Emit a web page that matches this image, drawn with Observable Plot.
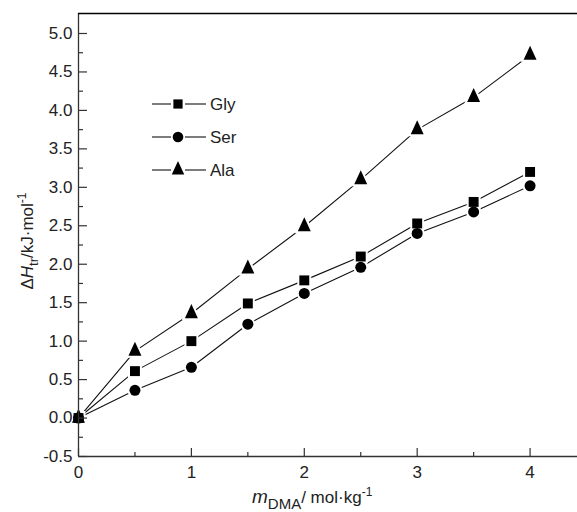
<!DOCTYPE html>
<html>
<head>
<meta charset="utf-8">
<script src="https://cdn.jsdelivr.net/npm/d3@7"></script>
<script src="https://cdn.jsdelivr.net/npm/@observablehq/plot@0.6"></script>
<style>
  html, body { margin: 0; padding: 0; background: #fff; }
  #chart { width: 577px; height: 512px; }
</style>
</head>
<body>
<div id="chart"></div>
<script>
// ---- data ----
const molality = [0, 0.5, 1, 1.5, 2, 2.5, 3, 3.5, 4];
const glyValues = [0, 0.61, 1.00, 1.49, 1.79, 2.10, 2.53, 2.81, 3.20];
const serValues = [0, 0.36, 0.66, 1.22, 1.62, 1.96, 2.40, 2.68, 3.02];
const alaValues = [0, 0.87, 1.36, 1.94, 2.49, 3.10, 3.75, 4.17, 4.72];
const seriesNames = ["Gly", "Ser", "Ala"];
const xMajorTicks = [0, 1, 2, 3, 4];
const xMinorTicks = [0.5, 1.5, 2.5, 3.5];
const yMajorTicks = [-0.5, 0, 0.5, 1.0, 1.5, 2.0, 2.5, 3.0, 3.5, 4.0, 4.5, 5.0];
const yMinorTicks = [-0.25, 0.25, 0.75, 1.25, 1.75, 2.25, 2.75, 3.25, 3.75, 4.25, 4.75];
const xDomain = [0, 4.42];
const yDomain = [-0.5, 5.26];

const valuesBySeries = { Gly: glyValues, Ser: serValues, Ala: alaValues };
const table = seriesNames.flatMap(s => molality.map((m, i) => ({ series: s, m, dh: valuesBySeries[s][i] })));

// custom slightly tall triangle
const tallTriangle = {
  draw(ctx, size) {
    const r = Math.sqrt(size / Math.PI);
    const hw = r * 1.2, h = r * 2.6;
    ctx.moveTo(0, -h * 2 / 3);
    ctx.lineTo(hw, h / 3);
    ctx.lineTo(-hw, h / 3);
    ctx.closePath();
  }
};
const symbolOf = { Gly: "square", Ser: "circle", Ala: tallTriangle };
const radiusOf = { Gly: 5.6, Ser: 5.5, Ala: 5.4 };

const FONT = "Arial, 'Liberation Sans', Helvetica, sans-serif";
const INK = "#222";
const AXIS = "#333";

const halos = seriesNames.map(s => Plot.dot(table.filter(d => d.series === s), {
  x: "m", y: "dh", symbol: symbolOf[s], r: radiusOf[s], fill: "white", stroke: "white", strokeWidth: 4
}));
const dots = seriesNames.map(s => Plot.dot(table.filter(d => d.series === s), {
  x: "m", y: "dh", symbol: symbolOf[s], r: radiusOf[s], fill: "#000", stroke: "none"
}));

const plot = Plot.plot({
  width: 577,
  height: 512,
  marginLeft: 78,
  marginRight: 0,
  marginTop: 13,
  marginBottom: 56,
  style: { fontSize: "17px", fontFamily: FONT, color: INK, background: "white", overflow: "visible" },
  x: { domain: xDomain, axis: null },
  y: { domain: yDomain, axis: null },
  marks: [
    Plot.line(table, { x: "m", y: "dh", z: "series", stroke: "#111", strokeWidth: 1.1 }),
    ...halos,
    ...dots,
    Plot.ruleX([xDomain[0]], { stroke: AXIS, strokeWidth: 1.3 }),
    Plot.ruleY([yDomain[0]], { stroke: AXIS, strokeWidth: 1.3 }),
    Plot.ruleY([yDomain[1]], { stroke: "#000", strokeWidth: 1.4 }),
    // inward ticks
    Plot.axisX(xMajorTicks, { anchor: "bottom", tickSize: -8, label: null, tickFormat: () => "", stroke: AXIS, strokeWidth: 1.2 }),
    Plot.axisX(xMinorTicks, { anchor: "bottom", tickSize: -4, label: null, tickFormat: () => "", stroke: AXIS, strokeWidth: 1.2 }),
    Plot.axisY(yMajorTicks, { anchor: "right", frameAnchor: "left", tickSize: 8, label: null, tickFormat: () => "", stroke: AXIS, strokeWidth: 1.2 }),
    Plot.axisY(yMinorTicks, { anchor: "right", frameAnchor: "left", tickSize: 4, label: null, tickFormat: () => "", stroke: AXIS, strokeWidth: 1.2 }),
    // tick labels (no tick strokes)
    Plot.axisX(xMajorTicks, { anchor: "bottom", tickSize: 0, tickPadding: 9, stroke: "none", label: null, tickFormat: d => String(d) }),
    Plot.axisY(yMajorTicks, { anchor: "left", tickSize: 0, tickPadding: 6, stroke: "none", label: null, tickFormat: d => d.toFixed(1) })
  ]
});
document.getElementById("chart").append(plot);

// ---- axis titles and legend ----
const svg = d3.select(plot);

// y title
const yt = svg.append("text")
  .attr("transform", "translate(33,241) rotate(-90)")
  .attr("text-anchor", "middle")
  .attr("fill", INK)
  .style("font-family", FONT)
  .style("font-size", "17px");
yt.append("tspan").text("\u0394");
yt.append("tspan").attr("font-style", "italic").text("H");
yt.append("tspan").attr("font-size", "13px").attr("dy", 5).text("tr");
yt.append("tspan").attr("dy", -5).text("/kJ\u00b7mol");
yt.append("tspan").attr("font-size", "12px").attr("dy", -7).text("-1");

// x title
const xt = svg.append("text")
  .attr("x", 252).attr("y", 503)
  .attr("text-anchor", "start")
  .attr("fill", INK)
  .style("font-family", FONT)
  .style("font-size", "17px");
xt.append("tspan").attr("font-style", "italic").attr("font-size", "19px").text("m");
xt.append("tspan").attr("font-size", "15px").attr("dy", 6).text("DMA");
xt.append("tspan").attr("dy", -6).text("/ mol\u00b7kg");
xt.append("tspan").attr("font-size", "12px").attr("dy", -7).text("-1");

// legend
const legendRows = [104, 137, 170];
const symbolPath = { Gly: d3.symbol(d3.symbolSquare, Math.PI * 5.2 * 5.2)(),
                     Ser: d3.symbol(d3.symbolCircle, Math.PI * 5.3 * 5.3)(),
                     Ala: d3.symbol(tallTriangle, Math.PI * 5.2 * 5.2)() };
const lg = svg.append("g");
seriesNames.forEach((s, i) => {
  const y = legendRows[i];
  lg.append("line").attr("x1", 152).attr("x2", 171).attr("y1", y).attr("y2", y).attr("stroke", "#111").attr("stroke-width", 1.1);
  lg.append("line").attr("x1", 185).attr("x2", 206).attr("y1", y).attr("y2", y).attr("stroke", "#111").attr("stroke-width", 1.1);
  lg.append("path").attr("d", symbolPath[s]).attr("transform", `translate(178,${y})`).attr("fill", "#000");
  lg.append("text").attr("x", 210).attr("y", y).attr("dy", "0.35em").attr("text-anchor", "start")
    .attr("fill", INK).style("font-family", FONT).style("font-size", "17px").text(s);
});
</script>
</body>
</html>
